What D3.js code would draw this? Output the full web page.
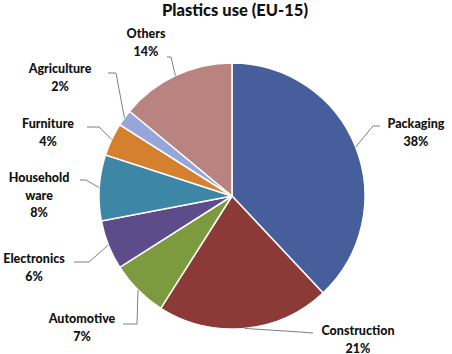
<!DOCTYPE html>
<html>
<head>
<meta charset="utf-8">
<script src="https://cdn.jsdelivr.net/npm/d3@7"></script>
<style>
  body { margin: 0; background: #fff; }
  svg { display: block; }
</style>
</head>
<body>
<div id="chart"></div>
<script>
// Données
const categories = ["Packaging", "Construction", "Automotive", "Electronics", "Household ware", "Furniture", "Agriculture", "Others"];
const valeurs = [38, 21, 7, 6, 8, 4, 2, 14];
const couleurs = ["#475e9c", "#8c3a38", "#7c9a3e", "#5d4b8a", "#3d86a6", "#d5802f", "#94a6da", "#b98480"];

const largeur = 452, hauteur = 354;
const cx = 232, cy = 196, rayon = 133;

const svg = d3.select("#chart")
    .append("svg")
        .attr("width", largeur)
        .attr("height", hauteur)
        .style("font-family", "Lato, 'Open Sans', sans-serif");

// Titre
svg.append("text")
    .attr("x", 235).attr("y", 16)
    .attr("text-anchor", "middle")
    .attr("font-size", "16.5px")
    .attr("font-weight", "900")
    .attr("fill", "#111")
    .text("Plastics use (EU-15)");

const pie = d3.pie().sort(null).value(d => d.v);
const arc = d3.arc().innerRadius(0).outerRadius(rayon);
const bord = d3.arc().innerRadius(rayon).outerRadius(rayon); // pour le point d'accroche des lignes

const donnees = categories.map((c, i) => ({ nom: c, v: valeurs[i], couleur: couleurs[i] }));
const parts = pie(donnees);

const g = svg.append("g").attr("transform", "translate(" + cx + "," + cy + ")");

g.selectAll("path.part")
    .data(parts)
    .join("path")
        .attr("class", "part")
        .attr("d", arc)
        .attr("fill", d => d.data.couleur)
        .attr("stroke", "#fff")
        .attr("stroke-width", 1.5);

// Placement des étiquettes (x centre, y première ligne, début de ligne, coude)
const placement = {
    "Packaging":      { x: 416, y: 128, p0: [380, 126], p1: [373, 126] },
    "Construction":   { x: 358, y: 335, p0: [313, 333], p1: [300, 332] },
    "Automotive":     { x: 82,  y: 323, p0: [123, 324], p1: [137, 324] },
    "Electronics":    { x: 34,  y: 263, p0: [74, 262],  p1: [89, 262] },
    "Household ware": { x: 39,  y: 182, p0: [80, 180],  p1: [86, 180] },
    "Furniture":      { x: 48,  y: 128, p0: [87, 127],  p1: [99, 127] },
    "Agriculture":    { x: 60,  y: 73,  p0: [108, 73],  p1: [116, 73] },
    "Others":         { x: 146, y: 38,  p0: [167, 57],  p1: [171, 57] }
};

const etiquettes = svg.append("g");

parts.forEach(d => {
    const pl = placement[d.data.nom];
    const c = bord.centroid(d);
    const pts = [pl.p0, pl.p1, [cx + c[0], cy + c[1]]];
    etiquettes.append("path")
        .attr("d", d3.line()(pts))
        .attr("fill", "none")
        .attr("stroke", "#7f7f7f")
        .attr("stroke-width", 1);

    const lignes = d.data.nom === "Household ware" ? ["Household", "ware"] : [d.data.nom];
    lignes.push(d.data.v + "%");
    const t = etiquettes.append("text")
        .attr("text-anchor", "middle")
        .attr("font-size", "12.5px")
        .attr("font-weight", "900")
        .attr("fill", "#111");
    lignes.forEach((l, i) => {
        t.append("tspan").attr("x", pl.x).attr("y", pl.y + i * 17.5).text(l);
    });
});
</script>
</body>
</html>
